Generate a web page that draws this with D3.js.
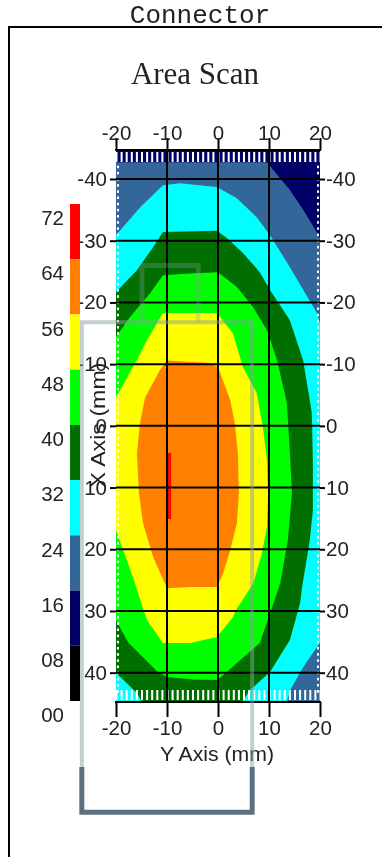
<!DOCTYPE html>
<html><head><meta charset="utf-8">
<script src="https://cdn.jsdelivr.net/npm/d3@7/dist/d3.min.js"></script>
<style>html,body{margin:0;padding:0;background:#fff;overflow:hidden}svg{display:block;filter:blur(0.4px)}
text{font-family:"Liberation Sans",Arial,sans-serif;fill:#222}</style></head><body>
<script>
const xTicks=[-20,-10,0,10,20];
const yTicks=[-40,-30,-20,-10,0,10,20,30,40];
const legendValues=[72,64,56,48,40,32,24,16,8,0];
const legendLabels=["72","64","56","48","40","32","24","16","08","00"];
const legendColors=["#ff0000","#ff8000","#ffff00","#00ff00","#006f00","#00ffff","#336699","#000066","#000000"];
const band16=[[-20,-42.7],[9.6,-42.7],[12.2,-40.1],[14.1,-38.2],[16.7,-35],[18.2,-33],[20,-30.4],[20,44.75],[-20,44.75]];
const band24=[[-20,-30.9],[-15.3,-35.4],[-10.8,-39],[-7.5,-39.3],[-0.2,-38.7],[3.7,-36.9],[7.6,-33.8],[10.2,-30.9],[14.1,-25.7],[17.5,-20.9],[19.4,-18.3],[20,-16.6],[20,35.1],[16.7,39.1],[14.1,42.9],[13.5,44.75],[-20,44.75]];
const band32=[[-20,-21.7],[-15.9,-25.2],[-12.7,-29],[-10.8,-31.4],[-0.2,-31.6],[1.8,-30.4],[4.9,-28],[8.2,-24.9],[10.2,-22],[14.1,-17.1],[16.7,-10.6],[18.4,-2.1],[18.6,5.6],[18.6,13.7],[18,18.5],[16.5,26.1],[16.1,28.7],[14.1,34.7],[10.2,39.9],[6.3,42.8],[4.7,44.75],[-14.9,44.75],[-15.9,43.3],[-20,40]];
const band40=[[-20,-14.4],[-17.3,-17.6],[-13.3,-21.5],[-10.8,-24.4],[-5.5,-24.7],[0,-24.9],[3.7,-22.5],[6.9,-19.2],[9.6,-15.5],[11.6,-10.6],[13.5,-3.7],[14.1,4.4],[14.5,10.9],[13.7,18.5],[12.2,25.5],[10.2,30.4],[8.2,35.2],[4.3,38],[1,40.4],[-0.2,41.2],[-4.9,41.1],[-10,40.7],[-11.8,39.9],[-17.6,35.1],[-20,31.5]];
const band48=[[-15.7,-11],[-13.9,-13.9],[-10.8,-18.3],[-0.2,-18.3],[2.9,-15],[4.9,-9.5],[7.6,-5.3],[8.8,0.2],[9.6,5.6],[9.8,10.9],[9.6,16.4],[8.6,20.7],[6.9,25.6],[3.7,29.6],[2.9,31],[-0.2,34.2],[-5.5,35.2],[-10.8,35.2],[-13.9,31.5],[-14.7,29.6],[-16.7,24.5],[-18.6,20.1],[-20,16.9],[-20,-4.6],[-16.7,-9.5]];
const band56=[[-10,-10.6],[-1.6,-10.2],[0,-9.5],[2.4,-4.2],[3.3,-0.4],[3.9,4.4],[4.1,10.9],[3.7,15.8],[2.4,20.1],[1,23.9],[-0.2,26.1],[-5.5,26.1],[-10,26.3],[-12.7,21.3],[-14.7,15.8],[-15.5,10.9],[-15.9,4.4],[-15.3,-0.4],[-14.3,-4.6],[-11.4,-9]];
const band64=[[-10,4.4],[-9.2,4.4],[-9.2,15.1],[-10,15.1]];
const bands=[[band16,"#336699"],[band24,"#00ffff"],[band32,"#006f00"],[band40,"#00ff00"],[band48,"#ffff00"],[band56,"#ff8000"],[band64,"#ff0000"]];
const connectorUpper=[[-26.7,55.3],[-26.7,-16.8],[6.7,-16.8],[6.7,55.3]];
const connectorLower=[[-26.7,55.3],[-26.7,62.6],[6.7,62.6],[6.7,55.3]];
const connectorTab=[[-14.9,-16.8],[-14.9,-26],[-3.9,-26],[-3.9,-16.8]];

const W=382,H=857,L=116,R=320,T=150,B=702;
const x=d3.scaleLinear().domain([-20,20]).range([L,R]);
const y=d3.scaleLinear().domain([-44.7,44.75]).range([T,B]);
const lg=d3.scaleLinear().domain([0,72]).range([701,204]);
const svg=d3.select("body").append("svg").attr("width",W).attr("height",H);
const line=d3.line().x(d=>x(d[0])).y(d=>y(d[1]));
const FS=20.5;

// frame
svg.append("path").attr("d",`M9,${H}V27H${W}`).attr("fill","none").attr("stroke","#000").attr("stroke-width",2);
svg.append("text").attr("x",200).attr("y",23).attr("text-anchor","middle")
  .style("font-family","'Liberation Mono',monospace").style("font-size","26px").text("Connector");
svg.append("text").attr("x",195).attr("y",84).attr("text-anchor","middle")
  .style("font-family","'Liberation Serif',serif").style("font-size","31px").text("Area Scan");

// field
svg.append("rect").attr("x",L).attr("y",T).attr("width",R-L).attr("height",B-T).attr("fill","#000066");
svg.selectAll("path.band").data(bands).join("path").attr("class","band")
  .attr("d",d=>line(d[0])+"Z").attr("fill",d=>d[1]);

// white minor ticks
const mmX=d3.range(-20,20.5,1), mmY=d3.range(-42,44,1);
const minor=svg.append("g").attr("fill","#fff");
minor.selectAll("rect.t").data(mmX).join("rect").attr("class","t").attr("x",d=>x(d)-0.5).attr("y",T+2).attr("width",2).attr("height",10);
minor.selectAll("rect.b").data(mmX).join("rect").attr("class","b").attr("x",d=>x(d)-0.5).attr("y",B-12).attr("width",2).attr("height",10);
minor.selectAll("rect.l").data(mmY).join("rect").attr("class","l").attr("x",L+1).attr("y",d=>y(d)-1).attr("width",2).attr("height",2.5);
minor.selectAll("rect.r").data(mmY).join("rect").attr("class","r").attr("x",R-3).attr("y",d=>y(d)-1).attr("width",2).attr("height",2.5);

// axes
function style(g){
  g.select(".domain").remove();
  g.selectAll("line").attr("stroke","#000").attr("stroke-width",2);
  g.selectAll("text").style("font-size",FS+"px").style("font-family","'Liberation Sans',sans-serif").attr("fill","#222");
}
const f=d=>String(d);
svg.append("g").attr("transform",`translate(${L},0)`)
  .call(d3.axisLeft(y).tickValues(yTicks).tickFormat(f).tickSize(6).tickPadding(3)).call(style);
svg.append("g").attr("transform",`translate(${R},0)`)
  .call(d3.axisRight(y).tickValues(yTicks).tickFormat(f).tickSize(5).tickPadding(1)).call(style);
svg.append("g").selectAll("line").data(yTicks).join("line").attr("x1",L).attr("x2",R)
  .attr("y1",d=>y(d)).attr("y2",d=>y(d)).attr("stroke","#000").attr("stroke-width",2);
svg.append("g").selectAll("line").data(xTicks.slice(1,4)).join("line").attr("y1",T).attr("y2",B)
  .attr("x1",d=>x(d)).attr("x2",d=>x(d)).attr("stroke","#000").attr("stroke-width",2);
svg.append("g").attr("transform",`translate(0,${T})`)
  .call(d3.axisTop(x).tickValues(xTicks).tickFormat(f).tickSize(12).tickPadding(-2)).call(style);
svg.append("g").attr("transform",`translate(0,${B})`)
  .call(d3.axisBottom(x).tickValues(xTicks).tickFormat(f).tickSize(15).tickPadding(3)).call(style);
svg.append("line").attr("x1",L-1).attr("x2",R+1).attr("y1",T).attr("y2",T).attr("stroke","#000").attr("stroke-width",2);
svg.append("line").attr("x1",L-1).attr("x2",R+1).attr("y1",B).attr("y2",B).attr("stroke","#000").attr("stroke-width",2);

svg.append("text").attr("x",217).attr("y",761).attr("text-anchor","middle").attr("textLength",114).attr("lengthAdjust","spacingAndGlyphs").style("font-size","19.5px").text("Y Axis (mm)");
svg.append("text").attr("transform","translate(105,425) rotate(-90)").attr("text-anchor","middle").attr("textLength",125).attr("lengthAdjust","spacingAndGlyphs").style("font-size","19.5px").text("X Axis (mm)");

// connector outline
const plain=d3.line().x(d=>x(d[0])).y(d=>y(d[1]));
svg.append("path").attr("d",plain(connectorTab)).attr("fill","none").attr("stroke","#8b9da5").attr("stroke-width",5).attr("opacity",.3);
svg.append("path").attr("d",plain(connectorUpper)).attr("fill","none").attr("stroke","#8b9da5").attr("stroke-width",4).attr("opacity",.5);
svg.append("path").attr("d",plain(connectorLower)).attr("fill","none").attr("stroke","#5c7080").attr("stroke-width",5);

// legend
svg.append("g").selectAll("rect").data(legendColors).join("rect").attr("x",70).attr("width",10)
  .attr("y",(d,i)=>lg(legendValues[i])).attr("height",(d,i)=>lg(legendValues[i+1])-lg(legendValues[i])).attr("fill",d=>d);
svg.append("g").selectAll("text").data(legendLabels).join("text").attr("x",64).attr("text-anchor","end")
  .attr("y",(d,i)=>lg(legendValues[i])+14).attr("dy","0.35em").style("font-size",FS+"px").text(d=>d);
</script></body></html>
